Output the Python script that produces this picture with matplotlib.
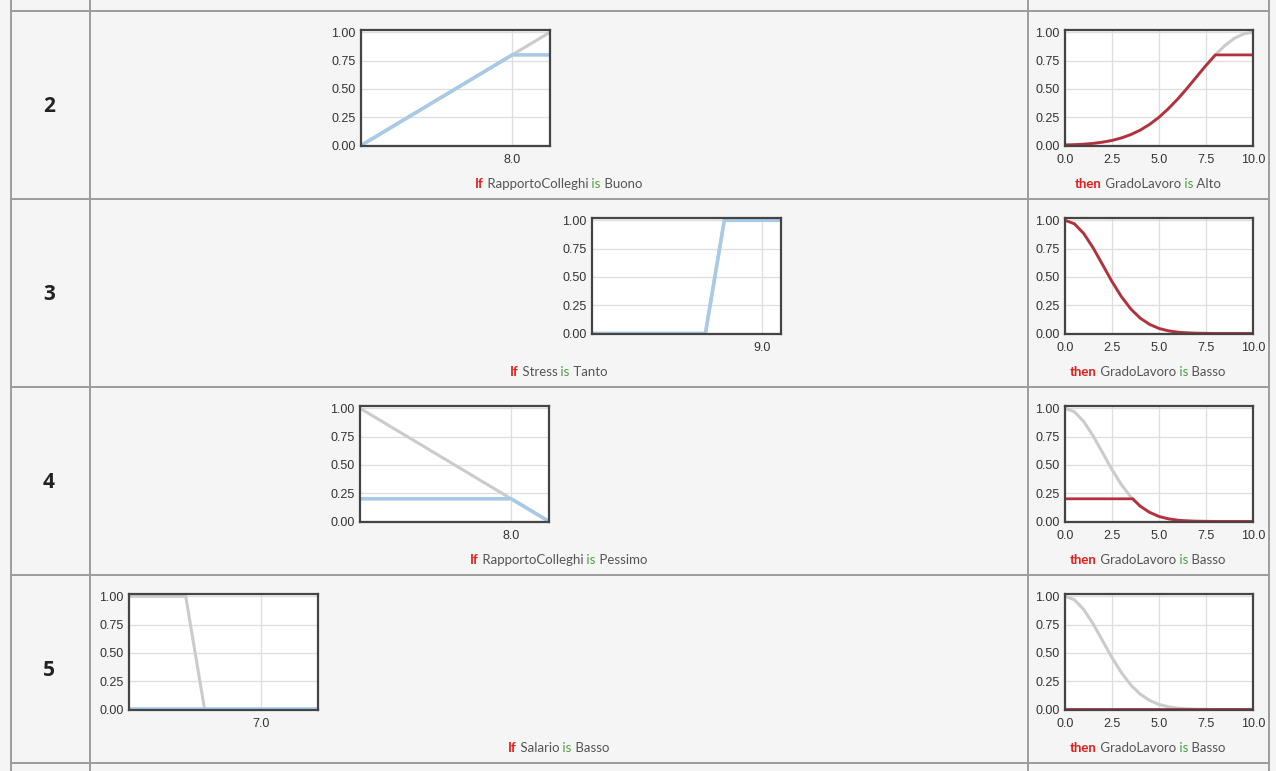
import matplotlib.pyplot as plt

# rule numbers shown in the first column
rule_ids = ['2', '3', '4', '5']

# antecedent (input) membership functions, x domain 0..10
buono_x = [0, 10]
buono_mf = [0, 1]
buono_fire_x = [0, 8, 10]
buono_fire = [0, 0.8, 0.8]

tanto_x = [0, 6, 7, 10]
tanto_mf = [0, 0, 1, 1]
tanto_fire_x = [0, 6, 7, 10]
tanto_fire = [0, 0, 1, 1]

pessimo_x = [0, 10]
pessimo_mf = [1, 0]
pessimo_fire_x = [0, 8, 10]
pessimo_fire = [0.2, 0.2, 0]

salario_x = [0, 3, 4, 10]
salario_mf = [1, 1, 0, 0]
salario_fire_x = [0, 10]
salario_fire = [0, 0]

input_ticks = [8.0, 9.0, 8.0, 7.0]

# consequent GradoLavoro, sampled every 0.5
grado_x = [0, 0.5, 1, 1.5, 2, 2.5, 3, 3.5, 4, 4.5, 5,
           5.5, 6, 6.5, 7, 7.5, 8, 8.5, 9, 9.5, 10]
alto_mf = [0.004, 0.007, 0.011, 0.018, 0.029, 0.044, 0.066, 0.096, 0.135, 0.186, 0.249,
           0.325, 0.411, 0.506, 0.607, 0.707, 0.801, 0.882, 0.946, 0.986, 1.0]
alto_out = [0.004, 0.007, 0.011, 0.018, 0.029, 0.044, 0.066, 0.096, 0.135, 0.186, 0.249,
            0.325, 0.411, 0.506, 0.607, 0.707, 0.8, 0.8, 0.8, 0.8, 0.8]
basso_mf = [1.0, 0.969, 0.882, 0.755, 0.607, 0.458, 0.325, 0.216, 0.135, 0.080, 0.044,
            0.023, 0.011, 0.005, 0.002, 0.001, 0.0, 0.0, 0.0, 0.0, 0.0]
basso_out3 = [1.0, 0.969, 0.882, 0.755, 0.607, 0.458, 0.325, 0.216, 0.135, 0.080, 0.044,
              0.023, 0.011, 0.005, 0.002, 0.001, 0.0, 0.0, 0.0, 0.0, 0.0]
basso_out4_x = [0, 0.5, 1, 1.5, 2, 2.5, 3, 3.5, 3.6, 4, 4.5, 5,
                5.5, 6, 6.5, 7, 7.5, 8, 8.5, 9, 9.5, 10]
basso_out4 = [0.2, 0.2, 0.2, 0.2, 0.2, 0.2, 0.2, 0.2, 0.2, 0.135, 0.080, 0.044,
              0.023, 0.011, 0.005, 0.002, 0.001, 0.0, 0.0, 0.0, 0.0, 0.0]
basso_out5 = [0] * 21

if_captions = [('RapportoColleghi', 'Buono'), ('Stress', 'Tanto'),
               ('RapportoColleghi', 'Pessimo'), ('Salario', 'Basso')]
then_captions = [('GradoLavoro', 'Alto'), ('GradoLavoro', 'Basso'),
                 ('GradoLavoro', 'Basso'), ('GradoLavoro', 'Basso')]

W, H = 1276, 771
fig = plt.figure(figsize=(W / 100, H / 100), dpi=100)
fig.patch.set_facecolor('#f5f5f5')
bg = fig.add_axes([0, 0, 1, 1])
bg.set_xlim(0, W)
bg.set_ylim(H, 0)
bg.axis('off')

line_c = '#9c9c9c'
for y in [11, 199, 387, 575, 763]:
    bg.plot([10.5, 1268.5], [y, y], color=line_c, lw=1.4)
for x in [10.5, 89.5, 1027.5, 1268.5]:
    bg.plot([x, x], [0, H], color=line_c, lw=1.4)

for i, r in enumerate(rule_ids):
    bg.text(49, 106 + 188 * i, r, ha='center', va='center', fontsize=15,
            fontweight='bold', family='Open Sans', color='#222222')


def mini(x, y, w=188, h=116):
    ax = fig.add_axes([x / W, 1 - (y + h) / H, w / W, h / H])
    ax.set_facecolor('white')
    ax.set_xlim(0, 10)
    ax.set_ylim(-0.005, 1.02)
    ax.set_yticks([0, 0.25, 0.5, 0.75, 1.0])
    ax.set_yticklabels(['0.00', '0.25', '0.50', '0.75', '1.00'])
    ax.grid(True, color='#dddddd', lw=0.9)
    ax.set_axisbelow(True)
    ax.tick_params(length=0, labelsize=9, labelcolor='#333333')
    ax.tick_params(axis='y', pad=4)
    ax.tick_params(axis='x', pad=6)
    for lbl in ax.get_xticklabels() + ax.get_yticklabels():
        lbl.set_family('Liberation Sans')
    for s in ax.spines.values():
        s.set_color('#444444')
        s.set_linewidth(1.6)
    return ax


gray = '#cbcbcb'
blue = '#a9cae5'
red = '#b5303d'

left_pos = [(361, 30), (592, 218), (360, 406), (129, 594)]
left_data = [(buono_x, buono_mf, buono_fire_x, buono_fire),
             (tanto_x, tanto_mf, tanto_fire_x, tanto_fire),
             (pessimo_x, pessimo_mf, pessimo_fire_x, pessimo_fire),
             (salario_x, salario_mf, salario_fire_x, salario_fire)]
for (px, py), (gx, gy, fx, fy), tk in zip(left_pos, left_data, input_ticks):
    ax = mini(px, py, 189)
    ax.plot(gx, gy, color=gray, lw=2.2, solid_capstyle='butt')
    ax.plot(fx, fy, color=blue, lw=2.6, solid_capstyle='butt')
    ax.set_xticks([tk])
    ax.set_xticklabels(['%.1f' % tk], family='Liberation Sans')

right_out = [(grado_x, alto_mf, grado_x, alto_out),
             (grado_x, basso_mf, grado_x, basso_out3),
             (grado_x, basso_mf, basso_out4_x, basso_out4),
             (grado_x, basso_mf, grado_x, basso_out5)]
for i, (gx, gy, rx, ry) in enumerate(right_out):
    ax = mini(1065, 30 + 188 * i)
    ax.plot(gx, gy, color=gray, lw=2.2)
    ax.plot(rx, ry, color=red, lw=2.0)
    ticks = [0, 2.5, 5, 7.5, 10]
    ax.set_xticks(ticks)
    ax.set_xticklabels(['%.1f' % t for t in ticks], family='Liberation Sans')

renderer = fig.canvas.get_renderer()


def caption(cx, cy, first, var, term):
    parts = [(first, '#e0201c', 'bold'), (var, '#555555', 'normal'),
             ('is', '#4f9e48', 'normal'), (term, '#555555', 'normal')]
    texts = []
    t = None
    for s, c, w in parts:
        if t is None:
            t = bg.text(cx, cy, s, color=c, fontweight=w, fontsize=9.5,
                        family='Lato', ha='left', va='center')
        else:
            t = bg.annotate(' ' + s, xy=(1, 0), xycoords=t, va='bottom',
                            color=c, fontweight=w, fontsize=9.5, family='Lato')
        texts.append(t)
    fig.canvas.draw()
    x0 = texts[0].get_window_extent(renderer).x0
    x1 = texts[-1].get_window_extent(renderer).x1
    texts[0].set_x(cx - (x1 - x0) / 2)


for i, (v, term) in enumerate(if_captions):
    caption(558.5, 184 + 188 * i, 'If', v, term)
for i, (v, term) in enumerate(then_captions):
    caption(1148, 184 + 188 * i, 'then', v, term)

fig.savefig('out.png', dpi=100, facecolor=fig.get_facecolor())
